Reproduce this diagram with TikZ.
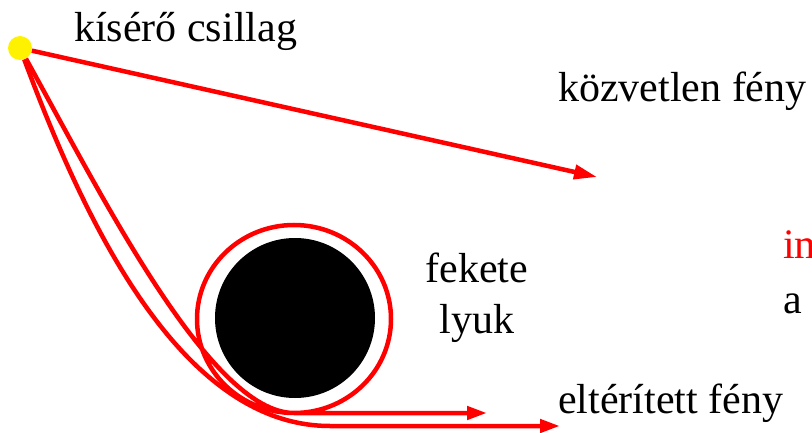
\documentclass[tikz,border=0pt]{standalone}
\usepackage{fontspec}
\setmainfont{Liberation Serif}
\usepackage{tikz}
\usetikzlibrary{arrows.meta}

\begin{document}
\begin{tikzpicture}[x=1pt, y=1pt,
    every node/.style={font=\fontsize{42}{51}\selectfont, inner sep=0pt},
    lightray/.style={draw=red, line width=4.5pt},
    lighttip/.style={-{Triangle[length=20pt, width=13pt]}}]
    \useasboundingbox (0,0) rectangle (812,432);
    % Bodies
    \node[circle, fill=black, minimum size=160pt] (hole) at (295,114) {};
    \node[circle, fill=yellow, minimum size=24pt] (star) at (20,384) {};
    % Labels
    \node[anchor=base west] (companion) at (74,390) {kísérő csillag};
    \node[anchor=base west] (directlbl) at (558,330) {közvetlen fény};
    \node[anchor=base west] (bentlbl) at (558,19) {eltérített fény};
    \node[anchor=base, align=center] (holelbl) at (477,99) {fekete\\lyuk};
    \node[anchor=base west, text=red] (imglbl) at (783,174) {im};
    \node[anchor=base west] (albl) at (783,119) {a};
    % Light paths
    \coordinate (direct) at (597,255);
    \coordinate (loop) at (294,19);
    \coordinate (innerend) at (487,19);
    \coordinate (outerbend) at (330,6);
    \coordinate (outerend) at (560,6);
    \draw[lightray, -{Triangle[length=23pt, width=14pt]}] (star) -- (direct);
    \draw[lightray, lighttip] (star) .. controls (100,240) and (210,19) .. (loop)
        arc[start angle=-90, end angle=270, x radius=97, y radius=94] -- (innerend);
    \draw[lightray, lighttip] (star) .. controls (84,212) and (180,6) .. (outerbend) -- (outerend);
\end{tikzpicture}
\end{document}
